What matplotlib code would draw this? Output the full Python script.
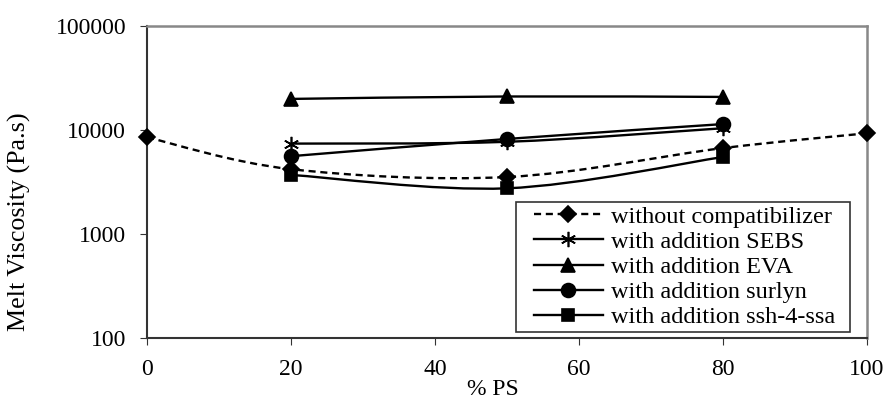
import numpy as np
import matplotlib
matplotlib.use("Agg")
import matplotlib.pyplot as plt
from matplotlib.path import Path
from matplotlib.patches import PathPatch, Rectangle
from matplotlib.lines import Line2D
from matplotlib.legend_handler import HandlerLine2D
from matplotlib.transforms import IdentityTransform
from matplotlib.ticker import FixedLocator, FixedFormatter, NullLocator

plt.rcParams['font.family'] = ['Liberation Serif', 'DejaVu Serif']

ps_without = [0, 20, 50, 80, 100]
visc_without = [8500, 4200, 3530, 6700, 9300]

ps_blend = [20, 50, 80]
visc_sebs = [7400, 7700, 10400]
visc_eva = [19900, 21000, 20800]
visc_surlyn = [5600, 8200, 11400]
visc_ssh = [3700, 2750, 5500]

labels = ["without compatibilizer", "with addition SEBS", "with addition EVA",
          "with addition surlyn", "with addition ssh-4-ssa"]


def smooth_path(x, y):
    # excel-like smoothed line: catmull-rom turned into bezier segments (in log y)
    x = np.asarray(x, float)
    ly = np.log10(y)
    verts = [(x[0], ly[0])]
    codes = [Path.MOVETO]
    n = len(x)
    for i in range(n - 1):
        p0 = (x[max(i - 1, 0)], ly[max(i - 1, 0)])
        p1 = (x[i], ly[i])
        p2 = (x[i + 1], ly[i + 1])
        p3 = (x[min(i + 2, n - 1)], ly[min(i + 2, n - 1)])
        c1 = (p1[0] + (p2[0] - p0[0]) / 6, p1[1] + (p2[1] - p0[1]) / 6)
        c2 = (p2[0] - (p3[0] - p1[0]) / 6, p2[1] - (p3[1] - p1[1]) / 6)
        verts += [c1, c2, p2]
        codes += [Path.CURVE4] * 3
    verts = [(vx, 10 ** vy) for vx, vy in verts]
    return Path(verts, codes)


fig = plt.figure(figsize=(8.88, 4.01), dpi=100)
ax = fig.add_axes([147 / 888, 1 - 338 / 401, (867 - 147) / 888, (338 - 26) / 401])
ax.set_yscale('log')
ax.set_xlim(0, 100)
ax.set_ylim(100, 100000)

series = [
    (ps_without, visc_without, 'D', '--', 8),
    (ps_blend, visc_sebs, (6, 2, 0), '-', 11),
    (ps_blend, visc_eva, '^', '-', 10),
    (ps_blend, visc_surlyn, 'o', '-', 10),
    (ps_blend, visc_ssh, 's', '-', 9),
]

handles = []
for (xs, ys, mk, ls, ms), lab in zip(series, labels):
    dash = (0, (3, 2)) if ls == '--' else '-'
    ax.add_patch(PathPatch(smooth_path(xs, ys), fill=False, edgecolor='black',
                           lw=1.7, linestyle=dash))
    ax.plot(xs, ys, linestyle='none', marker=mk, color='black', ms=ms,
            mew=1.2, clip_on=False, zorder=3)
    handles.append(Line2D([], [], color='black', lw=1.7, linestyle=dash,
                          marker=mk, ms=ms, mew=1.2))

ax.set_xticks([0, 20, 40, 60, 80, 100])
ax.yaxis.set_major_locator(FixedLocator([100, 1000, 10000, 100000]))
ax.yaxis.set_major_formatter(FixedFormatter(['100', '1000', '10000', '100000']))
ax.yaxis.set_minor_locator(NullLocator())
ax.tick_params(labelsize=17, direction='out', length=5, color='#333333', pad=10)
ax.set_xlabel('% PS', fontsize=17, va='baseline')
ax.xaxis.set_label_coords(0.48, -0.183)
ax.set_ylabel('Melt Viscosity (Pa.s)', fontsize=18.7)
ax.yaxis.set_label_coords(-0.161, 0.372)

for s in ['top', 'right']:
    ax.spines[s].set_color('#888888')
    ax.spines[s].set_linewidth(1.8)
for s in ['left', 'bottom']:
    ax.spines[s].set_color('#333333')
    ax.spines[s].set_linewidth(1.5)

leg = ax.legend(handles, labels, loc='lower right', fontsize=17.5, frameon=False,
                handlelength=3.45, borderpad=0.15, labelspacing=0.13,
                handletextpad=0.33, borderaxespad=0,
                bbox_to_anchor=(0.961, 0.019),
                handler_map={Line2D: HandlerLine2D(xpad=0.6)})
leg.set_zorder(6)

# legend frame a bit wider on the right, like the excel box
fig.canvas.draw()
bb = leg.get_window_extent()
ax.add_patch(Rectangle((bb.x0, bb.y0), bb.width + 11, bb.height,
                       transform=IdentityTransform(), facecolor='white',
                       edgecolor='#333333', lw=1.2, clip_on=False, zorder=5))

fig.savefig('out.png', dpi=100)
